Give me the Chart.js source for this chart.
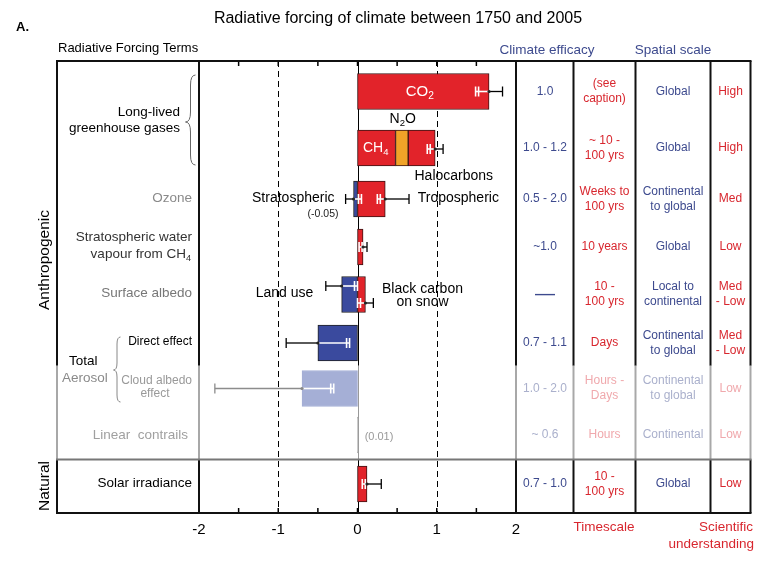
<!DOCTYPE html>
<html><head><meta charset="utf-8">
<script src="https://cdn.jsdelivr.net/npm/chart.js@4.4.0/dist/chart.umd.min.js"></script>
<style>html,body{margin:0;padding:0;background:#fff}#wrap{width:764px;height:570px}</style>
</head><body><div id="wrap"><canvas id="c" width="764" height="570"></canvas></div>
<script>
// ---------------- DATA ----------------
const rowNames = ['CO2', 'CH4 + N2O + Halocarbons', 'Ozone', 'Stratospheric water vapour from CH4', 'Surface albedo', 'Aerosol direct effect', 'Aerosol cloud albedo effect', 'Linear contrails', 'Solar irradiance'];
const termNames = ['CO2', 'CH4', 'N2O', 'Halocarbons', 'Stratospheric ozone', 'Tropospheric ozone', 'Stratospheric water vapour', 'Land use', 'Black carbon on snow', 'Direct effect', 'Cloud albedo effect', 'Linear contrails', 'Solar irradiance'];
const termRow = [0, 1, 1, 1, 2, 2, 3, 4, 4, 5, 6, 7, 8];
const termForcing = [1.66, 0.48, 0.16, 0.34, -0.05, 0.35, 0.07, -0.2, 0.1, -0.5, -0.7, 0.01, 0.12];

const errNames = ['CO2', 'Long-lived total', 'Stratospheric ozone', 'Tropospheric ozone', 'Strat. water vapour', 'Land use', 'Black carbon on snow', 'Direct effect', 'Cloud albedo', 'Solar irradiance'];
const errRow = [0, 1, 2, 2, 3, 4, 4, 5, 6, 8];
const errMean = [1.66, 0.98, -0.05, 0.35, 0.07, -0.2, 0.1, -0.5, -0.7, 0.12];
const errLow = [1.49, 0.88, -0.15, 0.25, 0.02, -0.4, 0.0, -0.9, -1.8, 0.06];
const errHigh = [1.83, 1.08, 0.05, 0.65, 0.12, 0.0, 0.2, -0.1, -0.3, 0.30];

const efficacy = ['1.0', '1.0 - 1.2', '0.5 - 2.0', '~1.0', '\u2014', '0.7 - 1.1', '1.0 - 2.0', '~ 0.6', '0.7 - 1.0'];
const timescale = [['(see', 'caption)'], ['~ 10 -', '100 yrs'], ['Weeks to', '100 yrs'], ['10 years'], ['10 -', '100 yrs'], ['Days'], ['Hours -', 'Days'], ['Hours'], ['10 -', '100 yrs']];
const spatial = [['Global'], ['Global'], ['Continental', 'to global'], ['Global'], ['Local to', 'continental'], ['Continental', 'to global'], ['Continental', 'to global'], ['Continental'], ['Global']];
const understanding = [['High'], ['High'], ['Med'], ['Low'], ['Med', '- Low'], ['Med', '- Low'], ['Low'], ['Low'], ['Low']];
const xTickValues = [-2, -1, 0, 1, 2];

// ---------------- LAYOUT / STYLE ----------------
const FONT = '"Liberation Sans", Arial, Helvetica, sans-serif';
const ROW_Y = [30.5, 87, 138, 186, 233.5, 282, 327.5, 374, 423]; // y-scale units (0 = plot top)
const NATURAL_SPLIT = 398.5;
const FADED_ROWS = [6, 7];
const RED = '#e2232a', BLUE = '#3a4a9e', LBLUE = '#a5afd6', ORANGE = '#f0a328', GREY = '#aaaaaa';
const TERM_COLORS = [RED, RED, ORANGE, RED, BLUE, RED, RED, BLUE, RED, BLUE, LBLUE, GREY, RED];
const TERM_BORDERS = ['#3a1414', '#3a1414', '#3a1414', '#3a1414', '#222', '#3a1414', '#3a1414', '#222', '#3a1414', '#222', LBLUE, '#999', '#3a1414'];
const ERR_DY = [0, 1, 0, 0, 0, -8.5, 8.5, 0, 0, 0];
const ERR_FADED = [false, false, false, false, false, false, false, false, true, false];
const COL_X = [57, 199, 516, 573.5, 635.5, 710.5, 750.5];
const COL_CENTER = [545, 604.5, 673, 730.5];
const TXT_BLUE = '#3d4a8e', TXT_RED = '#d8262e', TXT_BLUE_F = '#aab0cc', TXT_RED_F = '#f0a9ad';

// stacked floating ranges within a row
const ranges = [];
(function () {
  const pos = {}, neg = {};
  termForcing.forEach((v, i) => {
    const r = termRow[i];
    if (v >= 0) { const s = pos[r] || 0; ranges.push([s, s + v]); pos[r] = s + v; }
    else { const s = neg[r] || 0; ranges.push([s + v, s]); neg[r] = s + v; }
  });
})();

function setFont(ctx, size, weight) { ctx.font = (weight || 'normal') + ' ' + size + 'px ' + FONT; }
function txt(ctx, s, x, y, size, color, align, weight) {
  setFont(ctx, size, weight); ctx.fillStyle = color || '#000';
  ctx.textAlign = align || 'center'; ctx.textBaseline = 'middle'; ctx.fillText(s, x, y);
}
function rich(ctx, parts, x, y, size, color, align) {
  const sub = size * 0.68;
  let w = 0;
  parts.forEach(p => { setFont(ctx, p[1] ? sub : size); w += ctx.measureText(p[0]).width; });
  let cx = align === 'right' ? x - w : align === 'left' ? x : x - w / 2;
  ctx.fillStyle = color; ctx.textAlign = 'left'; ctx.textBaseline = 'middle';
  parts.forEach(p => {
    setFont(ctx, p[1] ? sub : size);
    ctx.fillText(p[0], cx, p[1] ? y + size * 0.32 : y);
    cx += ctx.measureText(p[0]).width;
  });
}
function line(ctx, x1, y1, x2, y2) { ctx.beginPath(); ctx.moveTo(x1, y1); ctx.lineTo(x2, y2); ctx.stroke(); }
function brace(ctx, x, y1, y2, w, ym) {
  const q = w / 2;
  ctx.beginPath();
  ctx.moveTo(x + w, y1);
  ctx.quadraticCurveTo(x + q, y1, x + q, y1 + w);
  ctx.lineTo(x + q, ym - w);
  ctx.quadraticCurveTo(x + q, ym, x, ym);
  ctx.quadraticCurveTo(x + q, ym, x + q, ym + w);
  ctx.lineTo(x + q, y2 - w);
  ctx.quadraticCurveTo(x + q, y2, x + w, y2);
  ctx.stroke();
}

const decor = {
  id: 'decor',
  beforeDatasetsDraw(chart) {
    const { ctx, scales: { x, y }, chartArea: a } = chart;
    ctx.save();
    ctx.strokeStyle = '#000'; ctx.lineWidth = 1; ctx.setLineDash([6, 4]);
    [-1, 1].forEach(v => { const px = Math.round(x.getPixelForValue(v)) + 0.5; line(ctx, px, a.top, px, a.bottom); });
    ctx.setLineDash([]);
    const z = Math.round(x.getPixelForValue(0)) + 0.5;
    const fTop = y.getPixelForValue((ROW_Y[5] + ROW_Y[6]) / 2), split = y.getPixelForValue(NATURAL_SPLIT);
    ctx.strokeStyle = '#000'; line(ctx, z, a.top, z, fTop);
    ctx.strokeStyle = '#999'; line(ctx, z, fTop, z, split);
    ctx.strokeStyle = '#000'; line(ctx, z, split, z, a.bottom);
    ctx.restore();
  },
  afterDatasetsDraw(chart) {
    const { ctx, scales: { x, y }, chartArea: a } = chart;
    ctx.save();
    // error bars
    errMean.forEach((m, i) => {
      const yc = y.getPixelForValue(ROW_Y[errRow[i]]) + ERR_DY[i];
      const pm = x.getPixelForValue(m), plo = x.getPixelForValue(errLow[i]), phi = x.getPixelForValue(errHigh[i]);
      const inner = m >= 0 ? plo : phi, outer = m >= 0 ? phi : plo;
      const dir = Math.sign(pm - inner) || 1;
      const oc = ERR_FADED[i] ? '#8c8c8c' : '#000';
      ctx.strokeStyle = oc; ctx.lineWidth = 1.3;
      line(ctx, pm, yc, outer, yc); line(ctx, outer, yc - 5, outer, yc + 5);
      ctx.strokeStyle = '#fff'; ctx.lineWidth = 1.6;
      line(ctx, pm, yc, inner, yc);
      line(ctx, inner, yc - 5, inner, yc + 5);
      line(ctx, inner + dir * 3, yc - 5, inner + dir * 3, yc + 5);
      ctx.fillStyle = ERR_FADED[i] ? '#888' : '#222';
      ctx.beginPath(); ctx.arc(pm, yc, 1.6, 0, Math.PI * 2); ctx.fill();
    });
    // tick marks
    ctx.strokeStyle = '#000'; ctx.lineWidth = 1.5;
    [-1.5, -1, -0.5, 0, 0.5, 1, 1.5].forEach(v => {
      const px = x.getPixelForValue(v);
      line(ctx, px, a.top, px, a.top + 5); line(ctx, px, a.bottom, px, a.bottom - 5);
    });
    // table lines
    const top = a.top, bot = a.bottom;
    const fTop = y.getPixelForValue((ROW_Y[5] + ROW_Y[6]) / 2), split = y.getPixelForValue(NATURAL_SPLIT);
    ctx.lineWidth = 2;
    COL_X.forEach(cx => {
      ctx.strokeStyle = '#111'; line(ctx, cx, top, cx, fTop);
      ctx.strokeStyle = '#a8a8a8'; line(ctx, cx, fTop, cx, split);
      ctx.strokeStyle = '#111'; line(ctx, cx, split, cx, bot);
    });
    ctx.strokeStyle = '#111'; line(ctx, 56, top, 751.5, top); line(ctx, 56, bot, 751.5, bot);
    ctx.strokeStyle = '#777'; line(ctx, 56, split, 751.5, split);

    // in-plot labels
    const X = v => x.getPixelForValue(v);
    rich(ctx, [['CO', 0], ['2', 1]], X(0.785), 91.5, 15, '#fff', 'center');
    rich(ctx, [['N', 0], ['2', 1], ['O', 0]], X(0.57), 119, 14, '#000', 'center');
    rich(ctx, [['CH', 0], ['4', 1]], X(0.23), 148, 14, '#fff', 'center');
    txt(ctx, 'Halocarbons', X(1.215), 176, 14, '#000');
    txt(ctx, 'Stratospheric', X(-0.29), 198.5, 14, '#000', 'right');
    txt(ctx, '(-0.05)', X(-0.24), 214, 10.5, '#222', 'right');
    txt(ctx, 'Tropospheric', X(0.76), 198.5, 14, '#000', 'left');
    txt(ctx, 'Land use', X(-0.557), 293.5, 14, '#000', 'right');
    txt(ctx, 'Black carbon', X(0.82), 289.5, 14, '#000');
    txt(ctx, 'on snow', X(0.82), 302.5, 14, '#000');
    txt(ctx, '(0.01)', X(0.09), 436.5, 11, '#999', 'left');

    // left labels
    txt(ctx, 'Long-lived', 180, 112, 13.5, '#000', 'right');
    txt(ctx, 'greenhouse gases', 180, 128, 13.5, '#000', 'right');
    ctx.strokeStyle = '#666'; ctx.lineWidth = 1; brace(ctx, 185.5, 75, 165, 10, 122);
    txt(ctx, 'Ozone', 192, 198.5, 13.5, '#8a8a8a', 'right');
    txt(ctx, 'Stratospheric water', 192, 237.5, 13.5, '#333', 'right');
    rich(ctx, [['vapour from CH', 0], ['4', 1]], 191, 254.5, 13.5, '#333', 'right');
    txt(ctx, 'Surface albedo', 192, 293.5, 13.5, '#777', 'right');
    txt(ctx, 'Direct effect', 192, 342, 12, '#000', 'right');
    txt(ctx, 'Total', 69, 361, 13.5, '#000', 'left');
    txt(ctx, 'Aerosol', 62, 378, 13.5, '#8a8a8a', 'left');
    ctx.strokeStyle = '#888'; brace(ctx, 113.5, 337, 402, 7, 370);
    txt(ctx, 'Cloud albedo', 192, 381, 12, '#999', 'right');
    txt(ctx, 'effect', 155, 394, 12, '#999');
    txt(ctx, 'Linear  contrails', 188, 435, 13.5, '#a0a0a0', 'right');
    txt(ctx, 'Solar irradiance', 192, 483, 13.5, '#000', 'right');
    ctx.save(); ctx.translate(45, 260); ctx.rotate(-Math.PI / 2); txt(ctx, 'Anthropogenic', 0, 0, 15.5, '#000'); ctx.restore();
    ctx.save(); ctx.translate(45, 486); ctx.rotate(-Math.PI / 2); txt(ctx, 'Natural', 0, 0, 15.5, '#000'); ctx.restore();

    // headers
    txt(ctx, 'A.', 16, 27, 13, '#000', 'left', 'bold');
    txt(ctx, 'Radiative forcing of climate between 1750 and 2005', 398, 19, 16, '#000');
    txt(ctx, 'Radiative Forcing Terms', 58, 48, 13, '#000', 'left');
    txt(ctx, 'Climate efficacy', 547, 50, 13.5, TXT_BLUE);
    txt(ctx, 'Spatial scale', 673, 50, 13.5, TXT_BLUE);
    txt(ctx, 'Timescale', 604, 527, 13.5, TXT_RED);
    txt(ctx, 'Scientific', 753, 527, 13.5, TXT_RED, 'right');
    txt(ctx, 'understanding', 754, 544, 13.5, TXT_RED, 'right');

    // table columns
    const cols = [efficacy.map(s => [s]), timescale, spatial, understanding];
    cols.forEach((col, ci) => {
      col.forEach((lines, r) => {
        const faded = FADED_ROWS.includes(r);
        const blue = ci === 0 || ci === 2;
        const color = blue ? (faded ? TXT_BLUE_F : TXT_BLUE) : (faded ? TXT_RED_F : TXT_RED);
        const yc = y.getPixelForValue(ROW_Y[r]);
        const n = lines.length;
        lines.forEach((s, k) => {
          const yy = yc + (k - (n - 1) / 2) * 15;
          const size = s === '\u2014' ? 20 : 12;
          txt(ctx, s, COL_CENTER[ci], yy, size, color);
        });
      });
    });
    ctx.restore();
  }
};

new Chart(document.getElementById('c'), {
  type: 'bar',
  data: {
    datasets: [{
      label: 'Radiative forcing (W m-2)',
      data: ranges.map((r, i) => ({ x: r, y: ROW_Y[termRow[i]] })),
      backgroundColor: TERM_COLORS,
      borderColor: TERM_BORDERS,
      borderWidth: 1,
      borderSkipped: false,
      barThickness: 36
    }]
  },
  options: {
    indexAxis: 'y',
    responsive: false,
    animation: false,
    devicePixelRatio: 1,
    events: [],
    layout: { padding: { left: 199, right: 248, top: 61, bottom: 23 } },
    plugins: { legend: { display: false }, tooltip: { enabled: false }, title: { display: false } },
    scales: {
      x: {
        type: 'linear', min: -2, max: 2,
        grid: { display: false, drawTicks: false, tickLength: 0 },
        border: { display: false },
        afterBuildTicks: s => { s.ticks = xTickValues.map(v => ({ value: v })); },
        ticks: { padding: 8, color: '#000', font: { family: FONT, size: 15 }, callback: v => String(v) }
      },
      y: { type: 'linear', min: 0, max: 452, reverse: true, offset: false, display: false }
    }
  },
  plugins: [decor]
});
</script>
</body></html>
